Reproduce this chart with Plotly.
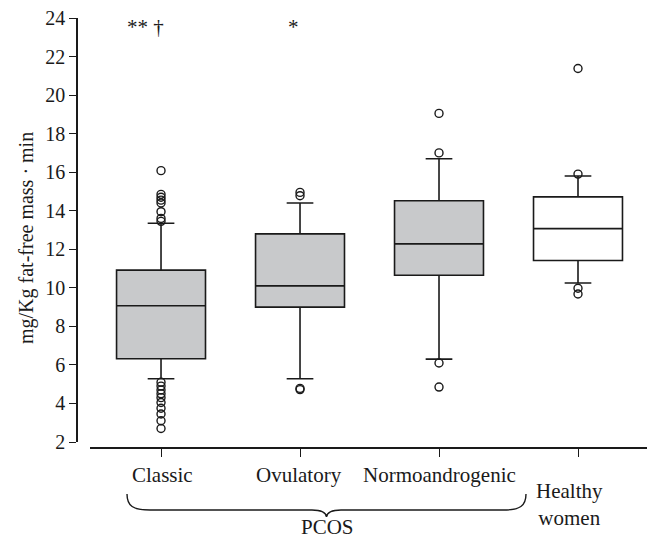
import plotly.graph_objects as go

# ---------------- data ----------------
categories = ["Classic", "Ovulatory", "Normoandrogenic", "Healthy women"]
tick_labels = ["Classic", "Ovulatory", "Normoandrogenic", "Healthy<br>women"]
q1_vals = [6.32, 9.00, 10.65, 11.42]
median_vals = [9.07, 10.10, 12.28, 13.07]
q3_vals = [10.92, 12.80, 14.52, 14.72]
lower_whisker = [5.28, 5.28, 6.30, 10.25]
upper_whisker = [13.35, 14.40, 16.70, 15.80]
outliers = [
    [16.08, 14.85, 14.70, 14.55, 14.40, 13.95, 13.60, 13.45,
     5.10, 4.90, 4.70, 4.50, 4.30, 4.05, 3.75, 3.45, 3.10, 2.70],
    [14.95, 14.78, 4.78, 4.72],
    [19.05, 17.00, 6.10, 4.85],
    [21.38, 15.90, 9.98, 9.68],
]
significance = ["** \u2020", "*", "", ""]
group_label = "PCOS"
y_title = "mg/Kg fat-free mass \u00b7 min"
y_ticks = [2, 4, 6, 8, 10, 12, 14, 16, 18, 20, 22, 24]

# ---------------- layout geometry (page pixels) ----------------
OFF = 8                      # page body margin
PAGE_W, PAGE_H = 655, 538
W, H = PAGE_W - OFF, PAGE_H - OFF
PLOT_L, PLOT_R, PLOT_T, PLOT_B = 77, 655, 18, 448   # page coords
ML, MR, MT, MB = PLOT_L - OFF, W - (PLOT_R - OFF), PLOT_T - OFF, H - (PLOT_B - OFF)
PW, PH = PLOT_R - PLOT_L, PLOT_B - PLOT_T


def px_x(px):
    return (px - PLOT_L) / PW


def px_y(py):
    return (PLOT_B - py) / PH


FONT = "Liberation Serif, Times New Roman, serif"
INK = "#1a1a1a"
fills = ["#c8c9cb", "#c8c9cb", "#c8c9cb", "#ffffff"]

fig = go.Figure()
for i, cat in enumerate(categories):
    fig.add_trace(go.Box(
        x=[cat], q1=[q1_vals[i]], median=[median_vals[i]], q3=[q3_vals[i]],
        lowerfence=[lower_whisker[i]], upperfence=[upper_whisker[i]],
        fillcolor=fills[i], line=dict(color=INK, width=1.6),
        width=0.64, whiskerwidth=0.3, boxpoints=False, showlegend=False,
        hoverinfo="skip",
    ))
    fig.add_trace(go.Scatter(
        x=[cat] * len(outliers[i]), y=outliers[i], mode="markers",
        marker=dict(symbol="circle-open", size=8, color=INK,
                    line=dict(width=1.4, color=INK)),
        showlegend=False, hoverinfo="skip",
    ))

annotations = []
sig_shift = [-16, -7, 0, 0]
for i, cat in enumerate(categories):
    if significance[i]:
        annotations.append(dict(
            x=cat, y=23.55, xref="x", yref="y", text=significance[i],
            showarrow=False, xshift=sig_shift[i],
            font=dict(family=FONT, size=21, color=INK),
        ))
label_y = [475, 475, 475, 504]
label_shift = [1, -1, 0, -9]
for i, cat in enumerate(categories):
    annotations.append(dict(
        x=cat, y=px_y(label_y[i]), xref="x", yref="paper",
        text=tick_labels[i], showarrow=False, xshift=label_shift[i],
        yanchor="middle", font=dict(family=FONT, size=21, color=INK),
    ))
annotations.append(dict(
    x=px_x(327), y=px_y(527), xref="paper", yref="paper", text=group_label,
    showarrow=False, yanchor="middle",
    font=dict(family=FONT, size=21, color=INK),
))
annotations.append(dict(
    x=px_x(26), y=px_y(238), xref="paper", yref="paper", text=y_title,
    showarrow=False, textangle=-90, xanchor="center", yanchor="middle",
    font=dict(family=FONT, size=20, color=INK),
))

pts = [
    ("M", [(127, 494)]),
    ("C", [(127, 506), (133, 510), (150, 510)]),
    ("L", [(312, 510)]),
    ("C", [(322, 510), (326, 513), (326.5, 517)]),
    ("C", [(327, 513), (331, 510), (341, 510)]),
    ("L", [(503, 510)]),
    ("C", [(520, 510), (526, 506), (526, 494)]),
]
path = ""
for cmd, plist in pts:
    path += cmd + " " + " ".join(f"{px_x(a):.5f},{px_y(b):.5f}" for a, b in plist) + " "

shapes = [dict(type="path", xref="paper", yref="paper", path=path.strip(),
               line=dict(color=INK, width=1.4))]

fig.update_layout(
    width=W, height=H,
    margin=dict(l=ML, r=MR, t=MT, b=MB, pad=0, autoexpand=False),
    paper_bgcolor="white", plot_bgcolor="white",
    boxmode="overlay",
    font=dict(family=FONT, size=21, color=INK),
    annotations=annotations, shapes=shapes,
    xaxis=dict(
        type="category", categoryorder="array", categoryarray=categories,
        range=[-0.511, 3.554], domain=[px_x(90), 1],
        showline=True, linecolor=INK, linewidth=1.6,
        ticks="outside", ticklen=8, tickwidth=1.4, tickcolor=INK,
        showticklabels=False, showgrid=False, zeroline=False,
        anchor="free", position=0,
    ),
    yaxis=dict(
        range=[2, 24], domain=[px_y(442), 1],
        tickvals=y_ticks, ticktext=[str(v) for v in y_ticks],
        showline=True, linecolor=INK, linewidth=1.6,
        ticks="outside", ticklen=7, tickwidth=1.4, tickcolor=INK,
        tickfont=dict(family=FONT, size=20, color=INK),
        ticklabeloverflow="allow",
        showgrid=False, zeroline=False, anchor="free", position=0,
    ),
)

fig.write_html("out.html")
